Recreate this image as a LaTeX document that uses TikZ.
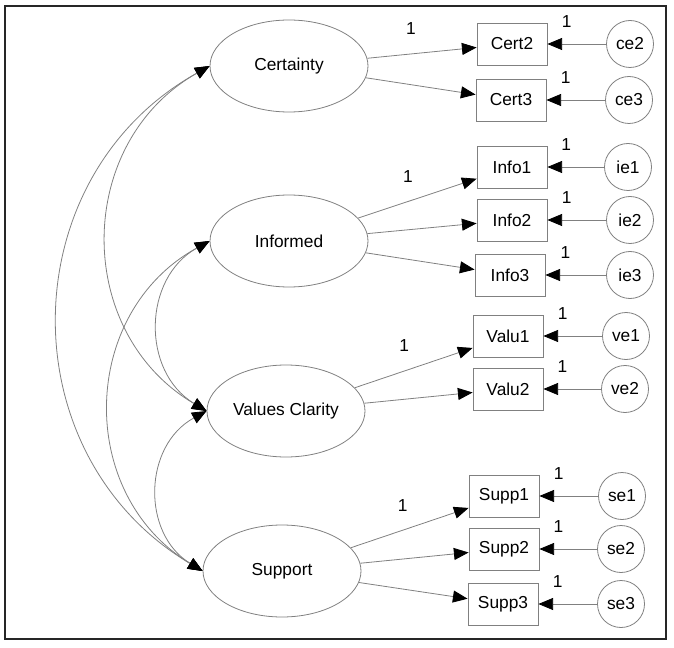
\documentclass[tikz,border=0pt]{standalone}
\usepackage{fontspec}
\setmainfont{Liberation Sans}
\usetikzlibrary{arrows.meta,shapes.geometric}

\begin{document}
\begin{tikzpicture}[x=0.75pt,y=0.75pt,
    font=\fontsize{13}{15}\selectfont,
    lat/.style={ellipse,draw=gray,line width=0.6pt,minimum width=118.5pt,minimum height=69pt,inner sep=0pt},
    obs/.style={rectangle,draw=gray,line width=0.6pt,minimum width=52.5pt,minimum height=31.5pt,inner sep=0pt},
    err/.style={circle,draw=gray,line width=0.6pt,minimum size=35.25pt,inner sep=0pt},
    ld/.style={draw=gray,line width=0.6pt,-{Triangle[length=11pt,width=9pt,black]}},
    cov/.style={draw=gray,line width=0.6pt,{Triangle[length=11pt,width=9pt,black]}-{Triangle[length=11pt,width=9pt,black]},bend right=60,looseness=1.15},
    one/.style={inner sep=1pt}]
\useasboundingbox (0,0) rectangle (674,647);
\draw[line width=1.5pt,black!85] (5,8) rectangle (666,641);

\node[lat] (Cert) at (289,581) {Certainty};
\node[lat] (Inf) at (289,406) {Informed};
\node[lat] (Val) at (286,236) {Values Clarity};
\node[lat] (Sup) at (282,76) {Support};

\node[obs] (Cert2) at (512,603) {Cert2};
\node[obs] (Cert3) at (511,547) {Cert3};
\node[obs] (Info1) at (512,480) {Info1};
\node[obs] (Info2) at (512,427) {Info2};
\node[obs] (Info3) at (510,372) {Info3};
\node[obs] (Valu1) at (508,311) {Valu1};
\node[obs] (Valu2) at (508,258) {Valu2};
\node[obs] (Supp1) at (504,151) {Supp1};
\node[obs] (Supp2) at (504,98) {Supp2};
\node[obs] (Supp3) at (503,43) {Supp3};

\node[err] (ce2) at (630,603) {ce2};
\node[err] (ce3) at (629,547) {ce3};
\node[err] (ie1) at (628,480) {ie1};
\node[err] (ie2) at (630,427) {ie2};
\node[err] (ie3) at (630,372) {ie3};
\node[err] (ve1) at (626,311) {ve1};
\node[err] (ve2) at (625,258) {ve2};
\node[err] (se1) at (622,151) {se1};
\node[err] (se2) at (621,98) {se2};
\node[err] (se3) at (621,43) {se3};

\draw[ld]
    (Cert) -- node[one,pos=.4,above=13pt] (wc) {1} (Cert2);
\draw[ld] (Cert) -- (Cert3);
\draw[ld]
    (Inf) -- node[one,pos=.42,above=13pt] (wi) {1} (Info1);
\draw[ld] (Inf) -- (Info2);
\draw[ld] (Inf) -- (Info3);
\draw[ld]
    (Val) -- node[one,pos=.42,above=13pt] (wv) {1} (Valu1);
\draw[ld] (Val) -- (Valu2);
\draw[ld]
    (Sup) -- node[one,pos=.44,above=13pt] (ws) {1} (Supp1);
\draw[ld] (Sup) -- (Supp2);
\draw[ld] (Sup) -- (Supp3);

\draw[ld] (ce2) -- node[one,pos=.67,above=11pt] (e1) {1} (Cert2);
\draw[ld] (ce3) -- node[one,pos=.67,above=11pt] (e2) {1} (Cert3);
\draw[ld] (ie1) -- node[one,pos=.67,above=11pt] (e3) {1} (Info1);
\draw[ld] (ie2) -- node[one,pos=.67,above=11pt] (e4) {1} (Info2);
\draw[ld] (ie3) -- node[one,pos=.67,above=11pt] (e5) {1} (Info3);
\draw[ld] (ve1) -- node[one,pos=.67,above=11pt] (e6) {1} (Valu1);
\draw[ld] (ve2) -- node[one,pos=.67,above=11pt] (e7) {1} (Valu2);
\draw[ld] (se1) -- node[one,pos=.67,above=11pt] (e8) {1} (Supp1);
\draw[ld] (se2) -- node[one,pos=.67,above=11pt] (e9) {1} (Supp2);
\draw[ld] (se3) -- node[one,pos=.67,above=11pt] (e10) {1} (Supp3);

\draw[cov] (Cert.west) to (Sup.west);
\draw[cov] (Cert.west) to (Val.west);
\draw[cov] (Inf.west) to (Val.west);
\draw[cov] (Inf.west) to (Sup.west);
\draw[cov] (Val.west) to (Sup.west);
\end{tikzpicture}
\end{document}
